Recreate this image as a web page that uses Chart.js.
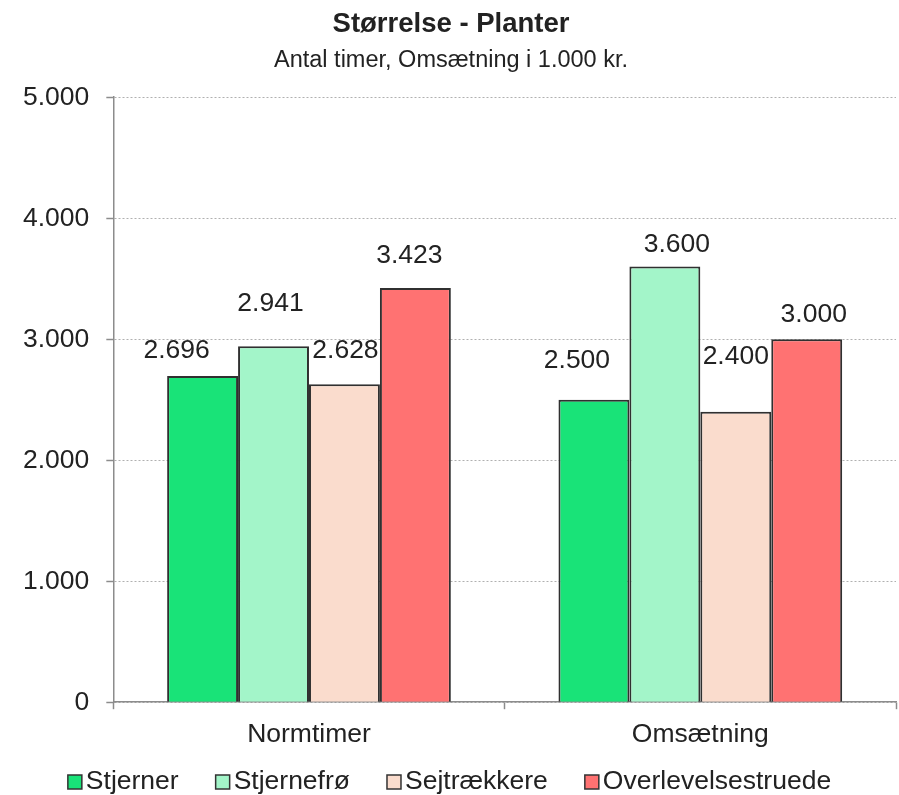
<!DOCTYPE html>
<html><head><meta charset="utf-8">
<script src="https://cdn.jsdelivr.net/npm/chart.js@4/dist/chart.umd.min.js"></script>
<style>html,body{margin:0;padding:0;background:#fff}</style>
</head><body>
<canvas id="c" width="899" height="795"></canvas>
<script>
// ---- data ----
const categories = ['Normtimer', 'Omsætning'];
const seriesNames = ['Stjerner', 'Stjernefrø', 'Sejtrækkere', 'Overlevelsestruede'];
const stjerner = [2696, 2500];
const stjernefro = [2941, 3600];
const sejtraekkere = [2628, 2400];
const overlevelsestruede = [3423, 3000];
const yTickValues = [0, 1000, 2000, 3000, 4000, 5000];
const titleText = 'Størrelse - Planter';
const subtitleText = 'Antal timer, Omsætning i 1.000 kr.';

// ---- styles ----
const colors = ['#19E378', '#A3F5C9', '#FADCCD', '#FF7272'];
// manual label placement (dx, dy from bar top-centre), as in the original
const labelOffsets = [
  [[-26, -25], [-17, -39]],
  [[-3, -43], [12, -22]],
  [[1, -34], [0, -55]],
  [[-6, -32], [7, -25]]
];
const FONT = '"Liberation Sans", Arial, Helvetica, sans-serif';
const TXT = '#222222';

function fmt(v) {
  return String(v).replace(/\B(?=(\d{3})+(?!\d))/g, '.');
}

const seriesValues = [stjerner, stjernefro, sejtraekkere, overlevelsestruede];

const labelPlugin = {
  id: 'barLabels',
  afterDatasetsDraw(chart) {
    const ctx = chart.ctx;
    ctx.save();
    ctx.font = '26.5px ' + FONT;
    ctx.fillStyle = TXT;
    ctx.textAlign = 'center';
    ctx.textBaseline = 'middle';
    chart.data.datasets.forEach((ds, i) => {
      const meta = chart.getDatasetMeta(i);
      meta.data.forEach((el, j) => {
        const off = labelOffsets[i][j];
        ctx.fillText(fmt(ds.data[j]), el.x + off[0], el.y + off[1]);
      });
    });
    ctx.restore();
  }
};

const legendPlugin = {
  id: 'customLegend',
  afterDraw(chart) {
    const ctx = chart.ctx;
    ctx.save();
    ctx.font = '26.5px ' + FONT;
    const box = 14, gap = 4, spacing = 37;
    const items = chart.data.datasets.map(ds => ({
      label: ds.label, color: ds.backgroundColor, w: box + gap + ctx.measureText(ds.label).width
    }));
    const total = items.reduce((s, it) => s + it.w, 0) + spacing * (items.length - 1);
    let x = chart.width / 2 - total / 2;
    const y = 782;
    items.forEach(it => {
      ctx.fillStyle = it.color;
      ctx.fillRect(x, y - box / 2, box, box);
      ctx.strokeStyle = '#333';
      ctx.lineWidth = 1.5;
      ctx.strokeRect(x, y - box / 2, box, box);
      ctx.fillStyle = TXT;
      ctx.textAlign = 'left';
      ctx.textBaseline = 'middle';
      ctx.fillText(it.label, x + box + gap, y);
      x += it.w + spacing;
    });
    ctx.restore();
  }
};

Chart.defaults.font.family = FONT;
Chart.defaults.color = TXT;

new Chart(document.getElementById('c'), {
  type: 'bar',
  data: {
    labels: categories,
    datasets: seriesNames.map((name, i) => ({
      label: name,
      data: seriesValues[i],
      backgroundColor: colors[i],
      borderColor: '#303030',
      borderWidth: 2,
      borderSkipped: 'bottom',
      categoryPercentage: 0.725,
      barPercentage: 1.0
    }))
  },
  options: {
    responsive: false,
    animation: false,
    devicePixelRatio: 1,
    layout: { padding: { left: 6, right: 3, top: 0, bottom: 34 } },
    plugins: {
      legend: { display: false },
      tooltip: { enabled: false },
      title: {
        display: true, text: titleText, color: TXT,
        font: { size: 27.5, weight: 'bold', family: FONT },
        padding: { top: 8, bottom: 5 }
      },
      subtitle: {
        display: true, text: subtitleText, color: TXT,
        font: { size: 23.5, family: FONT },
        padding: { top: 0, bottom: 23 }
      }
    },
    scales: {
      x: {
        grid: {
          display: true, drawOnChartArea: false, drawTicks: true,
          tickLength: 7, tickColor: '#8c8c8c', tickWidth: 1.5, offset: true
        },
        border: { display: true, color: '#8c8c8c', width: 1.5 },
        ticks: { font: { size: 26.5, family: FONT }, color: TXT, padding: 10 }
      },
      y: {
        min: 0, max: 5000,
        afterBuildTicks(scale) { scale.ticks = yTickValues.map(v => ({ value: v })); },
        grid: {
          color: '#b0b0b0', lineWidth: 1,
          drawTicks: true, tickLength: 7, tickColor: '#8c8c8c', tickWidth: 1.5, tickBorderDash: []
        },
        border: { display: true, color: '#8c8c8c', width: 1.5, dash: [2, 2] },
        ticks: {
          font: { size: 26.5, family: FONT }, color: TXT, padding: 17,
          callback: v => fmt(v)
        }
      }
    }
  },
  plugins: [labelPlugin, legendPlugin]
});
</script>
</body></html>
